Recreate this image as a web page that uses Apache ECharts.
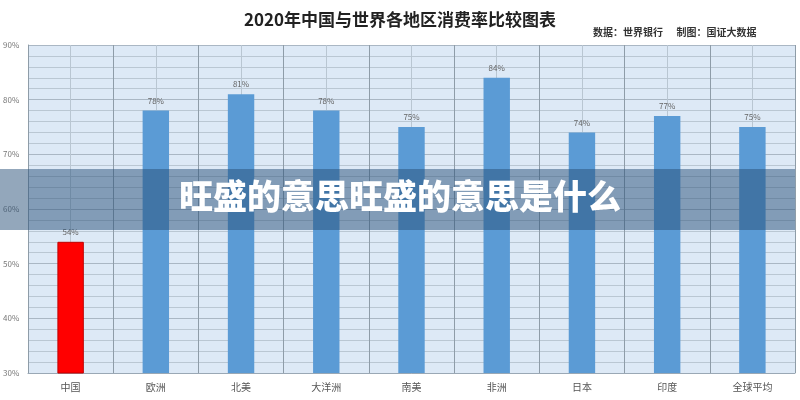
<!DOCTYPE html>
<html>
<head>
<meta charset="utf-8">
<style>
    html, body { margin: 0; padding: 0; background: #fff; }
    #chart { width: 800px; height: 400px; }
</style>
</head>
<body>
<div id="chart"></div>
<script src="https://cdn.jsdelivr.net/npm/echarts@6/dist/echarts.min.js"></script>
<script>
    // 数据
    const categories = ['中国', '欧洲', '北美', '大洋洲', '南美', '非洲', '日本', '印度', '全球平均'];
    const rates = [54, 78, 81, 78, 75, 84, 74, 77, 75];
    const highlightName = '中国';

    const titleText = '2020年中国与世界各地区消费率比较图表';
    const sourceText = '数据：世界银行      制图：国证大数据';
    const bannerText = '旺盛的意思旺盛的意思是什么';

    const font = '"Noto Sans CJK SC", "Noto Sans", sans-serif';
    let myChart = echarts.init(document.getElementById('chart'));

    let barData = categories.map(function (name, i) {
        if (name === highlightName) {
            return {
                value: rates[i],
                itemStyle: {color: '#ff0000', borderColor: '#c00000', borderWidth: 1}
            };
        }
        return rates[i];
    });

    myChart.setOption({
        backgroundColor: '#ffffff',
        animation: false,
        grid: {left: 25, right: 5, top: 45, bottom: 27, show: true, backgroundColor: '#dde9f6', borderWidth: 0},
        xAxis: [{
            type: 'category',
            data: categories,
            axisLine: {show: true, lineStyle: {color: '#9aa8b5'}},
            axisTick: {show: false},
            axisLabel: {color: '#555', fontSize: 10, fontFamily: font, margin: 9},
            splitLine: {show: true, lineStyle: {color: '#8e9ca8', width: 1}},
            z: 3
        }, {
            // 每个分类中线
            type: 'value',
            min: 0,
            max: 18,
            interval: 1,
            position: 'bottom',
            axisLine: {show: false},
            axisTick: {show: false},
            axisLabel: {show: false},
            splitLine: {show: true, lineStyle: {color: '#b9c6d2', width: 1}}
        }],
        yAxis: {
            type: 'value',
            min: 30,
            max: 90,
            interval: 10,
            axisLine: {show: true, lineStyle: {color: '#8e9ca8'}},
            axisTick: {show: false},
            axisLabel: {color: '#777', fontSize: 8, fontFamily: font, formatter: '{value}%', margin: 25, align: 'left'},
            splitLine: {show: true, lineStyle: {color: '#aab7c4'}},
            minorTick: {show: false, splitNumber: 5},
            minorSplitLine: {show: true, lineStyle: {color: '#bac7d3'}}
        },
        series: [{
            type: 'bar',
            xAxisIndex: 0,
            data: barData,
            barWidth: '31%',
            itemStyle: {color: '#5b9bd5'},
            label: {
                show: true,
                position: 'top',
                distance: 6,
                formatter: '{c}%',
                color: '#666',
                fontSize: 8,
                fontFamily: font
            },
            z: 5
        }],
        graphic: [
            {
                type: 'text', left: 'center', top: 11,
                style: {text: titleText, font: 'bold 17px ' + font, fill: '#222'}
            },
            {
                type: 'text', left: 593, top: 27,
                style: {text: sourceText, font: 'bold 10px ' + font, fill: '#333'}
            },
            {
                type: 'rect', left: 0, top: 169, z: 100,
                shape: {width: 795, height: 61},
                style: {fill: 'rgba(40, 80, 120, 0.5)'}
            },
            {
                type: 'text', left: 'center', top: 179, z: 101,
                style: {text: bannerText, font: '900 34px ' + font, fill: '#ffffff'}
            }
        ]
    });
</script>
</body>
</html>
